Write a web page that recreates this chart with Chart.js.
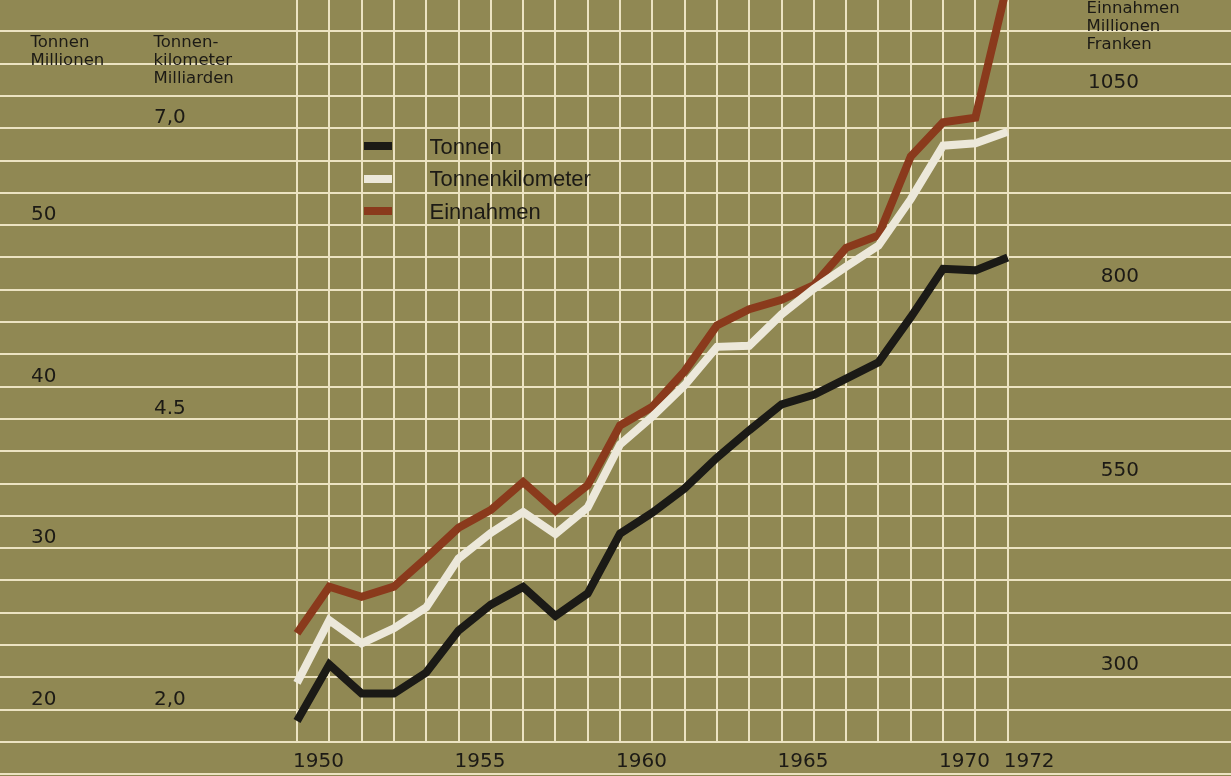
<!DOCTYPE html>
<html>
<head>
<meta charset="utf-8">
<title>Güterverkehr 1950-1972</title>
<script src="https://cdn.jsdelivr.net/npm/chart.js@4.4.1/dist/chart.umd.min.js"></script>
<style>
  html, body { margin: 0; padding: 0; background: #908853; overflow: hidden; }
  body { width: 1231px; height: 776px; position: relative; font-family: "DejaVu Sans", sans-serif; color: #1c1a15; }
  #wrap { position: absolute; left: 0; top: -1px; width: 1231px; height: 777px; }
  .head { position: absolute; font-size: 16.5px; line-height: 18px; white-space: nowrap; }
  #legend { position: absolute; left: 364px; top: 131px; font-family: "Liberation Sans", Arial, sans-serif; font-size: 22px; }
  .row { position: relative; height: 32.4px; line-height: 32.4px; padding-left: 65.5px; white-space: nowrap; }
  .swatch { position: absolute; left: 0; top: 11.4px; width: 28px; height: 8px; }
  #bottomline { position: absolute; left: 0; top: 773px; width: 1231px; height: 2px; background: #ece3c2; }
</style>
</head>
<body>
<div id="wrap"><canvas id="chart" width="1231" height="777"></canvas></div>
<div class="head" style="left:30.5px; top:32.6px">Tonnen<br>Millionen</div>
<div class="head" style="left:153.5px; top:32.6px">Tonnen-<br>kilometer<br>Milliarden</div>
<div class="head" style="left:1086.5px; top:-1.4px">Einnahmen<br>Millionen<br>Franken</div>
<div id="legend"></div>
<div id="bottomline"></div>
<script>
// values
const years = [1950, 1951, 1952, 1953, 1954, 1955, 1956, 1957, 1958, 1959, 1960, 1961,
               1962, 1963, 1964, 1965, 1966, 1967, 1968, 1969, 1970, 1971, 1972];
const tonnen = [19.3, 22.8, 21.0, 21.0, 22.3, 24.9, 26.5, 27.6, 25.8, 27.2, 30.9, 32.2,
                33.7, 35.6, 37.3, 38.9, 39.5, 40.5, 41.5, 44.3, 47.3, 47.2, 48.0];
const tonnenkm = [2.23, 2.77, 2.57, 2.70, 2.88, 3.30, 3.52, 3.70, 3.51, 3.74, 4.28, 4.52,
                  4.79, 5.12, 5.13, 5.40, 5.62, 5.81, 5.99, 6.39, 6.85, 6.87, 6.97];
const einnahmen = [357, 417, 404, 417, 454, 493, 516, 552, 515, 548, 625, 649,
                   695, 754, 775, 787, 806, 854, 870, 972, 1016, 1022, 1196];

const yearLabels = [1950, 1955, 1960, 1965, 1970, 1972];
const tonnenTicks = [20, 30, 40, 50];
const tkmTicks = [2.0, 4.5, 7.0];
const tkmTickLabels = ['2,0', '4.5', '7,0'];
const einTicks = [300, 550, 800, 1050];

const gridColor = '#ece3c2';
const textColor = '#1c1a15';
const tickFont = { family: 'DejaVu Sans', size: 20 };

// zero-width axes, labels sit inside the plot
const flatY = s => { s.width = 0; s.paddingTop = 0; s.paddingBottom = 0; };

function points(vals) {
  return vals.map((v, i) => ({ x: years[i], y: v }));
}

const chart = new Chart(document.getElementById('chart'), {
  type: 'line',
  data: {
    datasets: [
      { label: 'Tonnen', data: points(tonnen), yAxisID: 'y', borderColor: '#1b1a16' },
      { label: 'Tonnenkilometer', data: points(tonnenkm), yAxisID: 'yTkm', borderColor: '#ece8da' },
      { label: 'Einnahmen', data: points(einnahmen), yAxisID: 'yEin', borderColor: '#8a3a1c' }
    ]
  },
  options: {
    responsive: false,
    animation: false,
    devicePixelRatio: 1,
    events: [],
    layout: { padding: 0 },
    elements: {
      line: { borderWidth: 8, tension: 0, borderJoinStyle: 'miter', borderCapStyle: 'butt' },
      point: { radius: 0 }
    },
    plugins: { legend: { display: false }, tooltip: { enabled: false } },
    scales: {
      x: {
        type: 'linear',
        position: 'bottom',
        min: 1940.806,
        max: 1978.913,
        afterFit: s => { s.height = 34; s.paddingLeft = 0; s.paddingRight = 0; },
        border: { display: false },
        grid: {
          drawTicks: false,
          lineWidth: 2,
          color: ctx => {
            const v = ctx.tick ? ctx.tick.value : null;
            return (Number.isInteger(v) && v >= years[0] && v <= years[years.length - 1]) ? gridColor : 'rgba(0,0,0,0)';
          }
        },
        ticks: {
          stepSize: 1,
          maxTicksLimit: 100,
          autoSkip: false,
          maxRotation: 0,
          minRotation: 0,
          align: 'start',
          labelOffset: -4,
          padding: 8,
          color: textColor,
          font: tickFont,
          callback: v => yearLabels.includes(v) ? String(v) : ''
        }
      },
      y: {
        position: 'left',
        min: 18,
        max: 64,
        afterFit: flatY,
        border: { display: false },
        grid: { drawTicks: false, lineWidth: 2, color: gridColor },
        ticks: {
          stepSize: 2,
          maxTicksLimit: 100,
          mirror: true,
          padding: 31,
          labelOffset: -10,
          color: textColor,
          font: tickFont,
          callback: v => tonnenTicks.includes(v) ? String(v) : ''
        }
      },
      yTkm: {
        position: 'left',
        min: 1.72222,
        max: 8.11111,
        afterFit: flatY,
        afterBuildTicks: s => { s.ticks = tkmTicks.map(v => ({ value: v })); },
        border: { display: false },
        grid: { display: false, drawTicks: false },
        ticks: {
          mirror: true,
          padding: 154,
          labelOffset: -10,
          color: textColor,
          font: tickFont,
          callback: v => { const i = tkmTicks.indexOf(v); return i >= 0 ? tkmTickLabels[i] : ''; }
        }
      },
      yEin: {
        position: 'left',
        min: 216.667,
        max: 1175,
        afterFit: flatY,
        afterBuildTicks: s => { s.ticks = einTicks.map(v => ({ value: v })); },
        border: { display: false },
        grid: { display: false, drawTicks: false },
        ticks: {
          mirror: true,
          crossAlign: 'far',
          padding: 1088,
          labelOffset: -13,
          color: textColor,
          font: tickFont,
          callback: v => einTicks.includes(v) ? String(v) : ''
        }
      }
    }
  }
});

// legend next to the lines, built from the datasets
const legend = document.getElementById('legend');
chart.data.datasets.forEach(ds => {
  const row = document.createElement('div');
  row.className = 'row';
  const sw = document.createElement('span');
  sw.className = 'swatch';
  sw.style.background = ds.borderColor;
  row.appendChild(sw);
  row.appendChild(document.createTextNode(ds.label));
  legend.appendChild(row);
});
</script>
</body>
</html>
